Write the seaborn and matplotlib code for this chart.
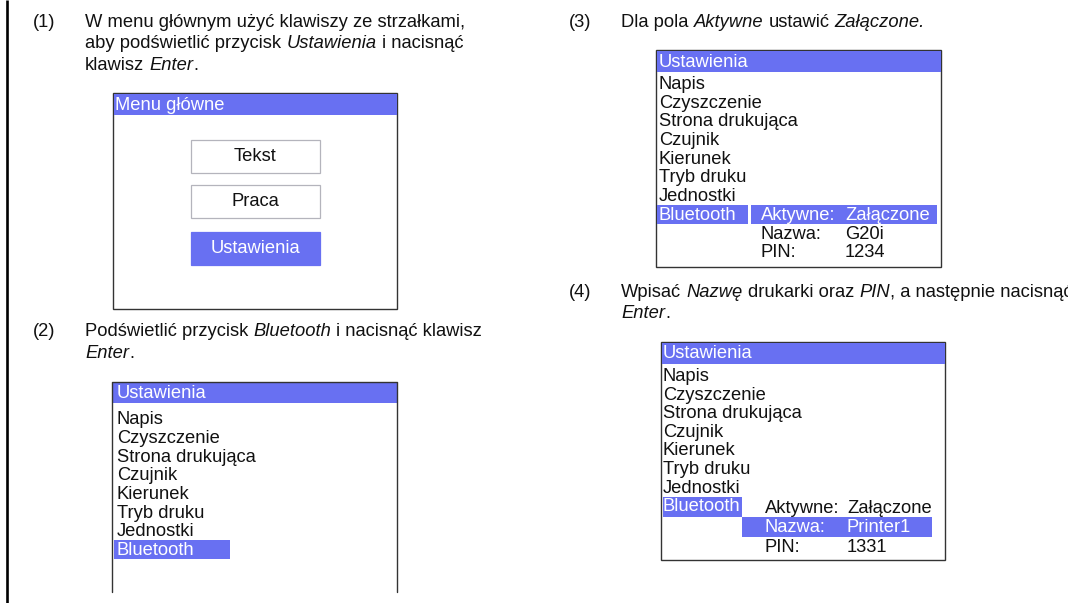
import matplotlib
matplotlib.use("Agg")
import matplotlib.pyplot as plt
from matplotlib.patches import Rectangle
import seaborn as sns

# dane ekranow
main_title = "Menu główne"
main_buttons = ["Tekst", "Praca", "Ustawienia"]
settings_title = "Ustawienia"
settings_items = ["Napis", "Czyszczenie", "Strona drukująca", "Czujnik",
                  "Kierunek", "Tryb druku", "Jednostki", "Bluetooth"]
bt_fields = ["Aktywne:", "Nazwa:", "PIN:"]
bt_values_3 = ["Załączone", "G20i", "1234"]
bt_values_4 = ["Załączone", "Printer1", "1331"]

# opisy krokow: (numer, linie z fragmentami (tekst, styl))
step1 = ("(1)", [[("W menu głównym użyć klawiszy ze strzałkami,", "normal")],
                 [("aby podświetlić przycisk ", "normal"), ("Ustawienia", "italic"), (" i nacisnąć", "normal")],
                 [("klawisz ", "normal"), ("Enter", "italic"), (".", "normal")]])
step2 = ("(2)", [[("Podświetlić przycisk ", "normal"), ("Bluetooth", "italic"), (" i nacisnąć klawisz", "normal")],
                 [("Enter", "italic"), (".", "normal")]])
step3 = ("(3)", [[("Dla pola ", "normal"), ("Aktywne", "italic"), (" ustawić ", "normal"), ("Załączone.", "italic")]])
step4 = ("(4)", [[("Wpisać ", "normal"), ("Nazwę", "italic"), (" drukarki oraz ", "normal"), ("PIN", "italic"),
                  (", a następnie nacisnąć", "normal")],
                 [("Enter", "italic"), (".", "normal")]])

BLUE = "#6870f2"
INK = "#111111"
FS = 13.2

sns.set_theme(style="white")
plt.rcParams["font.family"] = ["Liberation Sans", "DejaVu Sans"]

fig = plt.figure(figsize=(10.68, 6.03), dpi=100)
ax = fig.add_axes([0, 0, 1, 1])
ax.set_xlim(0, 1068)
ax.set_ylim(603, 0)
ax.axis("off")
renderer = fig.canvas.get_renderer()


def width_of(s, style="normal"):
    t = ax.text(0, 0, s, fontsize=FS, style=style)
    w = t.get_window_extent(renderer).width
    t.remove()
    return w


SPACE = width_of("a a") - width_of("aa")


def rich_line(x, y, parts, color=INK):
    for s, style in parts:
        lead = len(s) - len(s.lstrip(" "))
        trail = len(s) - len(s.rstrip(" "))
        x += lead * SPACE
        core = s.strip(" ")
        if core:
            ax.text(x, y, core, fontsize=FS, style=style, color=color, va="baseline", ha="left")
            x += width_of(core, style)
        x += trail * SPACE


def step(x_num, x_txt, y0, data, dy=21.5):
    num, lines = data
    ax.text(x_num, y0, num, fontsize=FS, color=INK, va="baseline")
    for i, parts in enumerate(lines):
        rich_line(x_txt, y0 + i * dy, parts)


def rect(x0, y0, x1, y1, **kw):
    ax.add_patch(Rectangle((x0, y0), x1 - x0, y1 - y0, **kw))


def label(x, y, s, color=INK, ha="left"):
    ax.text(x, y, s, fontsize=FS, color=color, va="baseline", ha=ha)


# lewa krawedz strony
ax.plot([6.5, 6.5], [0, 603], color="black", lw=1.9, solid_capstyle="butt")

# kroki
step(33, 85, 27, step1)
step(33, 85, 336, step2)
step(569, 621, 27, step3)
step(569, 621, 297, step4)

# ekran 1: menu glowne
rect(113, 93, 397, 309, facecolor="white", edgecolor="#333333", lw=1.0)
rect(113.5, 93.5, 396.5, 115, facecolor=BLUE, edgecolor="none")
label(115, 110, main_title, color="white")
btn_top = [140, 185, 232]
for i, name in enumerate(main_buttons):
    sel = name == "Ustawienia"
    rect(191, btn_top[i], 320, btn_top[i] + 33,
         facecolor=BLUE if sel else "white",
         edgecolor=BLUE if sel else "#b4b4bc", lw=0.9)
    label(255.5, btn_top[i] + 21, name, color="white" if sel else INK, ha="center")

# ekran 2: lista ustawien (dol obciety)
ax.plot([112, 112, 397, 397], [592, 382, 382, 592], color="#333333", lw=1.0)
rect(112.5, 382.5, 396.5, 403, facecolor=BLUE, edgecolor="none")
label(117, 398, settings_title, color="white")
for i, item in enumerate(settings_items):
    y = 424.5 + 18.6 * i
    if item == "Bluetooth":
        rect(114, y - 14.5, 230, y + 4.5, facecolor=BLUE, edgecolor="none")
        label(117, y, item, color="white")
    else:
        label(117, y, item)

# ekran 3: Bluetooth, Aktywne zaznaczone
rect(656, 50, 941, 267, facecolor="white", edgecolor="#333333", lw=1.0)
rect(656.5, 50.5, 940.5, 72, facecolor=BLUE, edgecolor="none")
label(659, 67, settings_title, color="white")
for i, item in enumerate(settings_items):
    y = 89 + 18.7 * i
    if item == "Bluetooth":
        rect(657, y - 15, 748, y + 4, facecolor=BLUE, edgecolor="none")
        label(659, y, item, color="white")
    else:
        label(659, y, item)
y_bt = 89 + 18.7 * 7
for j, (f, v) in enumerate(zip(bt_fields, bt_values_3)):
    y = y_bt + 18.7 * j
    c = INK
    if j == 0:
        rect(751, y - 15, 937, y + 4, facecolor=BLUE, edgecolor="none")
        c = "white"
    label(761, y, f, color=c)
    label(845, y, v, color=c)

# ekran 4: Bluetooth, Nazwa zaznaczona
rect(661, 342, 945, 560, facecolor="white", edgecolor="#333333", lw=1.0)
rect(661.5, 342.5, 944.5, 364, facecolor=BLUE, edgecolor="none")
label(663, 358, settings_title, color="white")
for i, item in enumerate(settings_items):
    y = 381 + 18.6 * i
    if item == "Bluetooth":
        rect(663, y - 14, 742, y + 6, facecolor=BLUE, edgecolor="none")
        label(663, y, item, color="white")
    else:
        label(663, y, item)
for j, (f, v) in enumerate(zip(bt_fields, bt_values_4)):
    y = 513 + 19.3 * j
    c = INK
    if j == 1:
        rect(742, y - 15, 932, y + 5, facecolor=BLUE, edgecolor="none")
        c = "white"
    label(765, y, f, color=c)
    label(847, y, v, color=c)

fig.savefig("out.png", dpi=100)
